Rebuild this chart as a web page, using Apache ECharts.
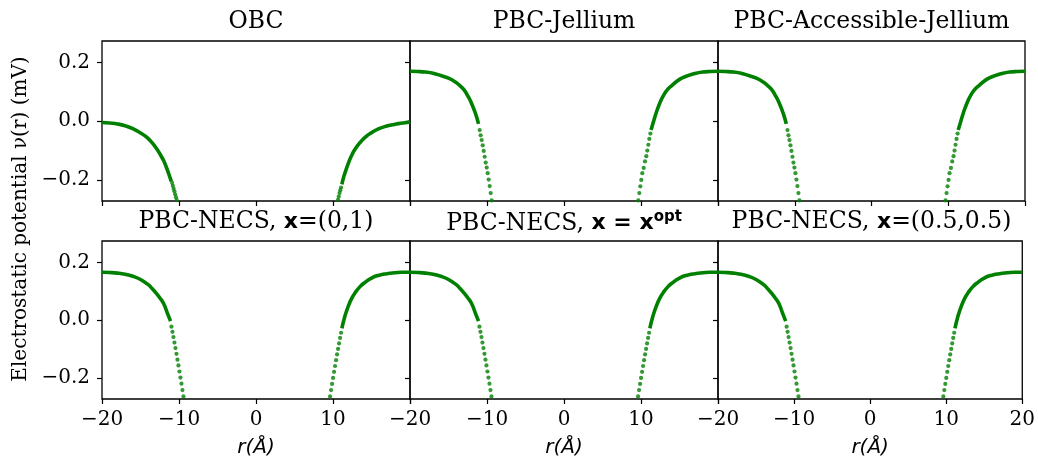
<!DOCTYPE html>
<html><head><meta charset="utf-8">
<script src="https://cdn.jsdelivr.net/npm/echarts@6/dist/echarts.min.js"></script>
<style>html,body{margin:0;padding:0;background:#fff}#c{width:1038px;height:459px}</style>
</head><body><div id="c"></div>
<script>
// ---- Data ----
const xTicks = [-20, -10, 0, 10, 20];
const yTicks = [-0.2, 0, 0.2];
const titles = [
  '{s|OBC}',
  '{s|PBC-Jellium}',
  '{s|PBC-Accessible-Jellium}',
  '{s|PBC-NECS, }{b|x}{s|=(0,1)}',
  '{s|PBC-NECS, }{b|x = x}{sup|opt}',
  '{s|PBC-NECS, }{b|x}{s|=(0.5,0.5)}'
];

// OBC
const obcLX = [-20,-19,-18,-17,-16,-15,-14.2,-13.5,-12.9,-12.4,-12.0,-11.7,-11.4,-11.0];
const obcLY = [-0.004,-0.006,-0.009,-0.015,-0.025,-0.040,-0.054,-0.073,-0.094,-0.115,-0.134,-0.153,-0.174,-0.205];
const obcLDotX = [-10.9,-10.8,-10.7,-10.6,-10.5,-10.4,-10.3];
const obcLDotY = [-0.210,-0.220,-0.230,-0.239,-0.249,-0.259,-0.269];
const obcRDotX = [10.65,10.75,10.85,10.95,11.05];
const obcRDotY = [-0.268,-0.257,-0.245,-0.235,-0.226];
const obcRX = [11.15,11.38,11.7,12.04,12.45,12.9,13.5,14.2,15,15.9,17,17.7,18.5,19.6,20];
const obcRY = [-0.215,-0.191,-0.165,-0.140,-0.115,-0.094,-0.073,-0.054,-0.039,-0.026,-0.016,-0.012,-0.008,-0.004,-0.002];

// PBC-Jellium / PBC-Accessible-Jellium
const pbcLX = [-20,-19,-18,-17,-16,-15,-14,-13.5,-13,-12.5,-12,-11.5,-11.1];
const pbcLY = [0.171,0.170,0.168,0.164,0.156,0.147,0.132,0.121,0.108,0.087,0.061,0.027,-0.009];
const pbcLDotX = [-10.95,-10.82,-10.69,-10.56,-10.43,-10.30,-10.17,-10.04,-9.91,-9.78,-9.65,-9.52,-9.39];
const pbcLDotY = [-0.030,-0.048,-0.064,-0.082,-0.101,-0.121,-0.141,-0.158,-0.177,-0.199,-0.221,-0.245,-0.270];
const pbcRDotX = [9.65,9.78,9.91,10.04,10.17,10.35,10.52,10.69,10.82,10.95,11.08,11.22];
const pbcRDotY = [-0.270,-0.245,-0.222,-0.200,-0.177,-0.159,-0.137,-0.119,-0.100,-0.080,-0.060,-0.042];
const pbcRX = [11.3,11.6,12,12.5,13,13.5,14,15,16,17,18,19,20];
const pbcRY = [-0.030,-0.003,0.031,0.066,0.092,0.110,0.122,0.143,0.155,0.163,0.168,0.170,0.171];

// PBC-NECS (all three variants)
const necsLX = [-20,-19,-18,-17,-16,-15,-14,-13.5,-13,-12.5,-12,-11.5,-11.1];
const necsLY = [0.166,0.165,0.163,0.159,0.152,0.141,0.123,0.110,0.095,0.078,0.058,0.024,-0.003];
const necsLDotX = [-10.98,-10.85,-10.72,-10.59,-10.46,-10.33,-10.20,-10.07,-9.94,-9.81,-9.68,-9.55,-9.42];
const necsLDotY = [-0.022,-0.040,-0.058,-0.077,-0.096,-0.116,-0.136,-0.156,-0.177,-0.198,-0.219,-0.241,-0.263];
const necsRDotX = [9.62,9.75,9.88,10.01,10.14,10.27,10.40,10.53,10.66,10.79,10.92,11.05];
const necsRDotY = [-0.263,-0.241,-0.220,-0.199,-0.178,-0.158,-0.138,-0.118,-0.099,-0.080,-0.061,-0.043];
const necsRX = [11.15,11.5,12,12.5,13,13.5,14,15,16,17,18,19,20];
const necsRY = [-0.028,0.010,0.050,0.079,0.100,0.116,0.128,0.146,0.156,0.161,0.164,0.166,0.166];

// ---- Build chart ----
const zip = (a, b) => a.map((v, i) => [v, b[i]]);
const curves = [
  [obcLX, obcLY, obcLDotX, obcLDotY, obcRDotX, obcRDotY, obcRX, obcRY],
  [pbcLX, pbcLY, pbcLDotX, pbcLDotY, pbcRDotX, pbcRDotY, pbcRX, pbcRY],
  [pbcLX, pbcLY, pbcLDotX, pbcLDotY, pbcRDotX, pbcRDotY, pbcRX, pbcRY],
  [necsLX, necsLY, necsLDotX, necsLDotY, necsRDotX, necsRDotY, necsRX, necsRY],
  [necsLX, necsLY, necsLDotX, necsLDotY, necsRDotX, necsRDotY, necsRX, necsRY],
  [necsLX, necsLY, necsLDotX, necsLDotY, necsRDotX, necsRDotY, necsRX, necsRY]
];

const colL = [102, 410, 718], colW = [308, 308, 307];
const rowT = [41, 241], rowH = [160, 159];
const GREEN = '#008000';
const SERIF = 'DejaVu Serif';
const FS = 20, TFS = 23.5;
const fmtNum = (v, d) => (v < 0 ? '\u2212' : '') + Math.abs(v).toFixed(d);

const grid = [], xAxis = [], yAxis = [], series = [], title = [];
for (let i = 0; i < 6; i++) {
  const r = Math.floor(i / 3), c = i % 3;
  grid.push({left: colL[c], top: rowT[r], width: colW[c], height: rowH[r],
    show: true, borderColor: '#000', borderWidth: 1.3, backgroundColor: 'transparent', containLabel: false});
  const bottomRow = r === 1;
  xAxis.push({type: 'value', gridIndex: i, min: -20, max: 20, position: 'bottom',
    axisLine: {show: false, onZero: false},
    axisTick: {show: true, inside: false, length: 5, lineStyle: {color: '#000', width: 1.2}, customValues: xTicks},
    axisLabel: {show: bottomRow, margin: 11, fontFamily: SERIF, fontSize: FS, color: '#000',
      customValues: c === 2 ? xTicks : xTicks.slice(0, 4), formatter: v => fmtNum(v, 0)},
    splitLine: {show: false},
    name: bottomRow ? 'r(\u00c5)' : '', nameLocation: 'middle', nameGap: 39,
    nameTextStyle: {fontFamily: 'DejaVu Sans', fontStyle: 'italic', fontSize: FS, color: '#000'}
  });
  yAxis.push({type: 'value', gridIndex: i, min: -0.272, max: 0.274, position: 'left',
    axisLine: {show: false, onZero: false},
    axisTick: {show: true, inside: false, length: 5, lineStyle: {color: '#000', width: 1.2}, customValues: yTicks},
    axisLabel: {show: c === 0, margin: 12, fontFamily: SERIF, fontSize: FS, color: '#000',
      customValues: yTicks, formatter: v => fmtNum(v, 1)},
    splitLine: {show: false}
  });
  const cv = curves[i];
  const lineStyle = {color: GREEN, width: 3.6};
  series.push({type: 'line', xAxisIndex: i, yAxisIndex: i, data: zip(cv[0], cv[1]), smooth: 0.5,
    showSymbol: false, symbol: 'none', lineStyle, clip: false, silent: true, z: 3});
  series.push({type: 'line', xAxisIndex: i, yAxisIndex: i, data: zip(cv[6], cv[7]), smooth: 0.5,
    showSymbol: false, symbol: 'none', lineStyle, clip: false, silent: true, z: 3});
  series.push({type: 'scatter', xAxisIndex: i, yAxisIndex: i,
    data: zip(cv[2], cv[3]).concat(zip(cv[4], cv[5])),
    symbolSize: 4.2, itemStyle: {color: GREEN}, clip: false, silent: true, z: 3});
  title.push({text: titles[i], left: colL[c] + colW[c] / 2, top: rowT[r] - 31, textAlign: 'center', padding: 0,
    textStyle: {fontWeight: 'normal', fontFamily: SERIF, fontSize: TFS, color: '#000', rich: {
      s: {fontFamily: SERIF, fontWeight: 'normal', fontSize: TFS, color: '#000'},
      b: {fontFamily: 'DejaVu Sans', fontWeight: 'bold', fontSize: 22, color: '#000'},
      sup: {fontFamily: 'DejaVu Sans', fontWeight: 'bold', fontSize: 15, color: '#000', padding: [0, 0, 12, 0]}
    }}});
}

const chart = echarts.init(document.getElementById('c'), null, {renderer: 'canvas'});
chart.setOption({
  animation: false,
  backgroundColor: '#fff',
  title, grid, xAxis, yAxis, series,
  graphic: [{type: 'text', x: 21, y: 219, rotation: Math.PI / 2,
    style: {text: 'Electrostatic potential \u03bd(r) (mV)', font: FS + 'px "DejaVu Serif"', fill: '#000',
      align: 'center', verticalAlign: 'middle'}}]
});
</script></body></html>
